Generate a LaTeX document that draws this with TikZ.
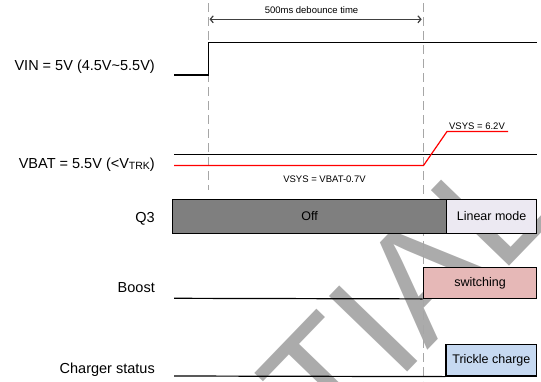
\documentclass[tikz,border=0pt]{standalone}
\usepackage{fontspec}
\setmainfont{Liberation Sans}
\usetikzlibrary{arrows.meta}
\definecolor{offgray}{HTML}{7F7F7F}
\definecolor{linfill}{HTML}{ECE9F2}
\definecolor{swfill}{HTML}{E6B8B7}
\definecolor{trfill}{HTML}{C6D9F1}
\definecolor{dashgray}{HTML}{A6A6A6}
\definecolor{wmgray}{HTML}{ABABAB}
\definecolor{arrgray}{HTML}{404040}
\tikzset{
  sig/.style={line width=1.2pt, black},
  sigred/.style={line width=1.2pt, red},
  vdash/.style={line width=1pt, dashgray, dash pattern=on 9pt off 5pt},
  lbl/.style={anchor=base east, inner sep=0, font=\fontsize{14.5}{16}\selectfont},
  small/.style={anchor=base, inner sep=0, font=\fontsize{9.5}{11}\selectfont},
  statebox/.style={draw=black, line width=1.2pt, inner sep=0, font=\fontsize{12.5}{14}\selectfont},
  wm/.style={text=wmgray, inner sep=0, font=\fontsize{158}{162}\selectfont}
}
\begin{document}
\begin{tikzpicture}[x=1pt,y=-1pt]
\useasboundingbox (0,0) rectangle (541,381);
% watermark
\begin{scope}
\clip (0,0) rectangle (541,381);
\node[wm, rotate=46, anchor=base west] (wmark) at (330,452) {TIAL};
\end{scope}
% dashed time markers
\coordinate (dl0) at (208.5,3);
\coordinate (dl1) at (208.5,190);
\coordinate (dr0) at (423.5,3);
\coordinate (dr1) at (423.5,381);
\draw[vdash] (dl0) -- (dl1);
\draw[vdash] (dr0) -- (dr1);
% debounce arrow
\coordinate (a0) at (209.5,19.3);
\coordinate (a1) at (421.7,19.3);
\draw[arrgray, line width=1.2pt, {Straight Barb[length=3pt,width=7pt]}-{Straight Barb[length=3pt,width=7pt]}] (a0) -- (a1);
\node[small] (deb) at (311.5,13.3) {500ms debounce time};
% VIN
\coordinate (vin0) at (174,75);
\coordinate (vinr) at (208.5,75);
\coordinate (vinh) at (208.5,42.7);
\coordinate (vin1) at (536.7,42.7);
\draw[sig] (vin0) -- (vinr) -- (vinh) -- (vin1);
\node[lbl] (vinl) at (155,70.7) {VIN = 5V (4.5V\char"007E 5.5V)};
% VBAT
\coordinate (vb0) at (174,154.3);
\coordinate (vb1) at (536.7,154.3);
\draw[sig] (vb0) -- (vb1);
\coordinate (vs0) at (174,165.5);
\coordinate (vs1) at (423.5,165.5);
\coordinate (vs2) at (447,131.5);
\coordinate (vs3) at (508,131.5);
\draw[sigred] (vs0) -- (vs1) -- (vs2) -- (vs3);
\node[lbl] (vbl) at (155,168.3) {VBAT = 5.5V (<V\raisebox{-1.5pt}{\fontsize{10.5}{11}\selectfont TRK})};
\node[small] (vsh) at (477,129) {VSYS = 6.2V};
\node[small] (vsl) at (324.5,182.7) {VSYS = VBAT-0.7V};
% Q3
\node[lbl] (q3l) at (155,222.5) {Q3};
\node[statebox, fill=offgray, minimum width=274pt, minimum height=34pt] (off) at (309.7,216.3) {Off};
\node[statebox, fill=linfill, minimum width=89.8pt, minimum height=34pt] (lin) at (491.6,216.3) {Linear mode};
% Boost
\node[lbl] (bl) at (155,292.7) {Boost};
\coordinate (b0) at (174,298.3);
\node[statebox, fill=swfill, minimum width=113.4pt, minimum height=31pt] (sw) at (480,282.8) {switching};
\draw[sig] (b0) -- (sw.south west);
% Charger status
\node[lbl] (cl) at (155,373.3) {Charger status};
\coordinate (c0) at (174,376);
\node[statebox, fill=trfill, minimum width=90.7pt, minimum height=31.7pt] (tr) at (491.35,360.15) {Trickle charge};
\draw[sig] (c0) -- (tr.south west);
\end{tikzpicture}
\end{document}
